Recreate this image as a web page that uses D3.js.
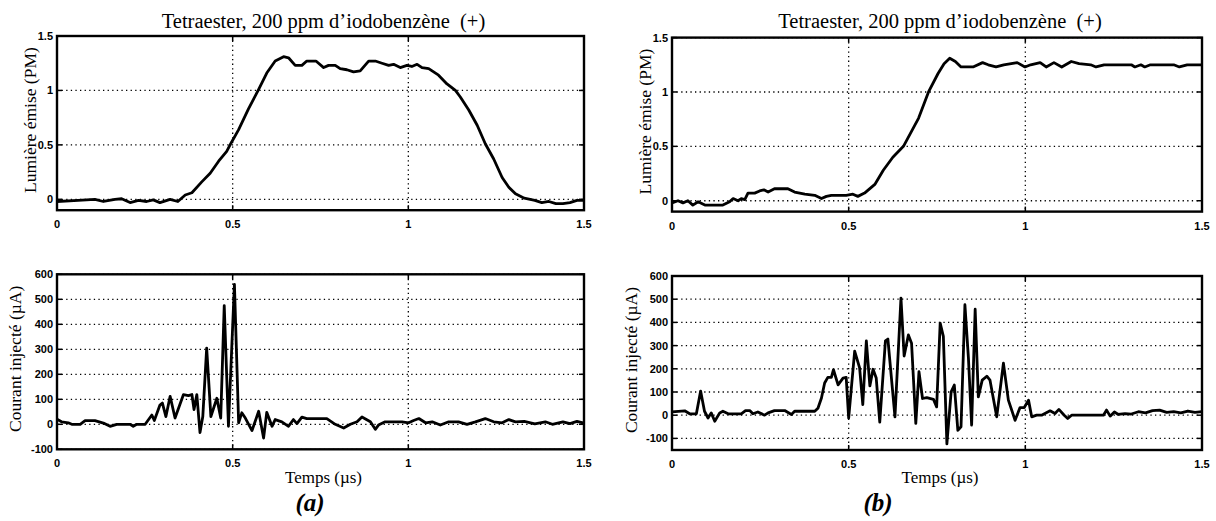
<!DOCTYPE html>
<html>
<head>
<meta charset="utf-8">
<script src="https://cdn.jsdelivr.net/npm/d3@7"></script>
<style>
  body { margin: 0; background: #fff; }
  svg { display: block; }
</style>
</head>
<body>
<svg id="viz"></svg>
<script>
// Light emitted (PM) and injected current (µA) vs time (µs), panels (a) and (b)

const titleText = "Tetraester, 200 ppm d\u2019iodobenz\u00e8ne \u00a0(+)";
const xTicks = [0, 0.5, 1, 1.5];
const xTickLabels = ["0", "0.5", "1", "1.5"];
const lightTicks = [0, 0.5, 1, 1.5];
const lightTickLabels = ["0", "0.5", "1", "1.5"];
const currentTicksA = [-100, 0, 100, 200, 300, 400, 500, 600];
const currentTicksB = [-100, 0, 100, 200, 300, 400, 500, 600];

// (a) light
const lightA_t = [0, 0.06, 0.108, 0.132, 0.165, 0.184, 0.208, 0.232, 0.255, 0.274, 0.293, 0.322, 0.344,
  0.365, 0.384, 0.412, 0.436, 0.46, 0.483, 0.496, 0.517, 0.545, 0.574, 0.597, 0.621, 0.645, 0.659,
  0.678, 0.697, 0.711, 0.737, 0.759, 0.773, 0.792, 0.806, 0.825, 0.844, 0.863, 0.887, 0.906, 0.925,
  0.944, 0.958, 0.977, 0.996, 1.01, 1.025, 1.039, 1.058, 1.086, 1.11, 1.134, 1.148, 1.172, 1.196,
  1.219, 1.243, 1.267, 1.286, 1.305, 1.33, 1.36, 1.38, 1.40, 1.42, 1.44, 1.46, 1.48, 1.5];
const lightA_v = [-0.02, -0.01, 0.0, -0.02, 0.0, 0.005, -0.03, -0.01, -0.02, -0.005, -0.03, 0.0, -0.02,
  0.04, 0.06, 0.16, 0.24, 0.35, 0.44, 0.52, 0.64, 0.83, 1.01, 1.16, 1.27, 1.31, 1.30,
  1.23, 1.23, 1.27, 1.27, 1.21, 1.23, 1.23, 1.20, 1.19, 1.17, 1.18, 1.27, 1.27, 1.25,
  1.23, 1.24, 1.21, 1.23, 1.22, 1.24, 1.21, 1.20, 1.14, 1.06, 1.0, 0.94, 0.82, 0.68,
  0.51, 0.37, 0.20, 0.11, 0.05, 0.01, -0.01, -0.03, -0.02, -0.04, -0.04, -0.03, -0.01, -0.01];

// (a) current
const currentA_t = [0, 0.013, 0.032, 0.042, 0.066, 0.08, 0.108, 0.132, 0.151, 0.17, 0.208, 0.217, 0.227,
  0.251, 0.27, 0.277, 0.293, 0.3, 0.31, 0.322, 0.336, 0.36, 0.374, 0.384, 0.39, 0.398, 0.407, 0.415,
  0.426, 0.438, 0.455, 0.466, 0.476, 0.488, 0.505, 0.517, 0.526, 0.536, 0.555, 0.574, 0.588, 0.597,
  0.612, 0.621, 0.64, 0.659, 0.673, 0.683, 0.697, 0.711, 0.768, 0.792, 0.816, 0.835, 0.854, 0.868,
  0.892, 0.906, 0.915, 0.934, 0.982, 1.001, 1.015, 1.03, 1.049, 1.068, 1.091, 1.115, 1.143, 1.167,
  1.191, 1.219, 1.243, 1.267, 1.286, 1.305, 1.33, 1.36, 1.39, 1.41, 1.44, 1.46, 1.48, 1.5];
const currentA_v = [20, 10, 6, 0, 0, 15, 15, 5, -8, 0, 0, -8, 0,
  0, 37, 15, 77, 85, 31, 112, 25, 119, 115, 119, 59, 119, -33, 31,
  305, 31, 104, 25, 475, -8, 560, 6, 46, 25, -25, 52, -55, 48,
  -8, 19, 10, -8, 19, 3, 29, 23, 23, 0, -15, 0, 10, 29,
  10, -20, -3, 10, 10, 6, 15, 23, 6, 10, -3, 10, 10, 0,
  10, 23, 10, 6, 19, 10, 12, 2, 10, 0, 10, 3, 12, 5];

// (b) light
const lightB_t = [0, 0.017, 0.031, 0.045, 0.059, 0.074, 0.093, 0.144, 0.163, 0.173, 0.187, 0.196, 0.206,
  0.215, 0.234, 0.248, 0.26, 0.272, 0.29, 0.328, 0.347, 0.376, 0.404, 0.423, 0.437, 0.451, 0.493,
  0.512, 0.526, 0.545, 0.574, 0.598, 0.625, 0.655, 0.698, 0.726, 0.753, 0.77, 0.786, 0.802, 0.818,
  0.852, 0.879, 0.895, 0.917, 0.939, 0.977, 0.999, 1.015, 1.042, 1.059, 1.081, 1.103, 1.13, 1.152,
  1.185, 1.2, 1.223, 1.3, 1.31, 1.327, 1.338, 1.354, 1.42, 1.436, 1.458, 1.5];
const lightB_v = [-0.02, 0.0, -0.02, 0.0, -0.04, -0.01, -0.04, -0.04, -0.01, 0.02, 0.0, 0.02, 0.01,
  0.07, 0.07, 0.09, 0.1, 0.08, 0.11, 0.11, 0.08, 0.06, 0.05, 0.02, 0.04, 0.05, 0.05,
  0.06, 0.04, 0.07, 0.15, 0.28, 0.40, 0.5, 0.76, 1.0, 1.17, 1.26, 1.31, 1.28, 1.23,
  1.23, 1.27, 1.25, 1.23, 1.25, 1.27, 1.23, 1.25, 1.27, 1.23, 1.27, 1.23, 1.28, 1.26,
  1.25, 1.23, 1.25, 1.25, 1.23, 1.25, 1.23, 1.25, 1.25, 1.23, 1.25, 1.25];

// (b) current
const currentB_t = [0, 0.036, 0.05, 0.069, 0.081, 0.092, 0.102, 0.111, 0.121, 0.135, 0.144, 0.159, 0.196,
  0.208, 0.22, 0.229, 0.243, 0.262, 0.272, 0.29, 0.319, 0.338, 0.347, 0.404, 0.413, 0.423, 0.432,
  0.441, 0.451, 0.457, 0.47, 0.484, 0.493, 0.5, 0.517, 0.531, 0.54, 0.55, 0.56, 0.569, 0.578, 0.588,
  0.604, 0.611, 0.631, 0.648, 0.657, 0.669, 0.678, 0.69, 0.699, 0.709, 0.721, 0.74, 0.749, 0.759,
  0.768, 0.778, 0.79, 0.799, 0.809, 0.818, 0.829, 0.839, 0.848, 0.858, 0.867, 0.878, 0.891, 0.9,
  0.919, 0.938, 0.952, 0.971, 0.985, 0.997, 1.009, 1.018, 1.032, 1.046, 1.07, 1.084, 1.095, 1.11,
  1.12, 1.131, 1.169, 1.221, 1.23, 1.24, 1.252, 1.262, 1.282, 1.3, 1.32, 1.34, 1.36, 1.38, 1.4,
  1.42, 1.44, 1.46, 1.48, 1.5];
const currentB_v = [14, 19, 6, 6, 104, 17, -12, 10, -26, 10, 17, 6, 6,
  20, 20, 6, 14, 0, 10, 20, 20, 3, 17, 17, 30, 74, 139,
  163, 163, 196, 131, 160, 163, -13, 276, 204, 46, 320, 126, 198, 160, -30,
  320, 328, -7, 505, 255, 346, 310, -35, 188, 72, 76, 68, 36, 397,
  340, -124, 101, 130, -65, -50, 476, 245, -43, 457, 79, 151, 168, 151,
  -7, 224, 65, -22, 33, 33, 65, -7, 0, 0, 19, 7, 25, 0,
  -14, 0, 0, 0, 22, -4, 14, 4, 7, 5, 15, 10, 20, 22, 12,
  15, 10, 18, 12, 15];

// panel layout (pixel boxes), data is wired in below
const panels = [
  { t: lightA_t, v: lightA_v, x: [57, 584], y: [210.2, 36], dom: [-0.1, 1.5],
    yt: lightTicks, ytl: lightTickLabels, title: true, ylabel: "Lumi\u00e8re \u00e9mise (PM)", ylx: 30 },
  { t: currentA_t, v: currentA_v, x: [57, 584], y: [449.3, 274.3], dom: [-100, 600],
    yt: currentTicksA, ytl: currentTicksA.map(String), xlabel: true, tag: "(a)", tagx: 310,
    ylabel: "Courant inject\u00e9 (\u00b5A)", ylx: 15 },
  { t: lightB_t, v: lightB_v, x: [672, 1202], y: [211.6, 37.6], dom: [-0.1, 1.5],
    yt: lightTicks, ytl: lightTickLabels, title: true, ylabel: "Lumi\u00e8re \u00e9mise (PM)", ylx: 645 },
  { t: currentB_t, v: currentB_v, x: [672, 1202], y: [450, 276], dom: [-150, 600],
    yt: currentTicksB, ytl: currentTicksB.map(String), xlabel: true, tag: "(b)", tagx: 878,
    ylabel: "Courant inject\u00e9 (\u00b5A)", ylx: 631 }
];

const svg = d3.select("#viz").attr("width", 1216).attr("height", 521);
const serif = "'Liberation Serif', 'Times New Roman', serif";
const sans = "'Liberation Sans', Arial, sans-serif";

panels.forEach(p => {
  const xScale = d3.scaleLinear().domain([0, 1.5]).range(p.x);
  const yScale = d3.scaleLinear().domain(p.dom).range(p.y);
  const g = svg.append("g");
  const [x0, x1] = p.x;
  const [yb, yt] = p.y;

  // dotted grid
  g.selectAll(".vgrid").data([0.5, 1]).enter().append("line")
    .attr("x1", d => xScale(d)).attr("x2", d => xScale(d))
    .attr("y1", yt).attr("y2", yb)
    .attr("stroke", "#000").attr("stroke-width", 1.3).attr("stroke-dasharray", "1.3,3.3");
  g.selectAll(".hgrid").data(p.yt).enter().append("line")
    .attr("x1", x0).attr("x2", x1)
    .attr("y1", d => yScale(d)).attr("y2", d => yScale(d))
    .attr("stroke", "#000").attr("stroke-width", 1.3).attr("stroke-dasharray", "1.3,3.3");

  // inward ticks
  xTicks.forEach(d => {
    g.append("line").attr("x1", xScale(d)).attr("x2", xScale(d)).attr("y1", yb).attr("y2", yb - 5)
      .attr("stroke", "#000").attr("stroke-width", 1.5);
    g.append("line").attr("x1", xScale(d)).attr("x2", xScale(d)).attr("y1", yt).attr("y2", yt + 5)
      .attr("stroke", "#000").attr("stroke-width", 1.5);
  });
  p.yt.forEach(d => {
    g.append("line").attr("x1", x0).attr("x2", x0 + 5).attr("y1", yScale(d)).attr("y2", yScale(d))
      .attr("stroke", "#000").attr("stroke-width", 1.5);
    g.append("line").attr("x1", x1).attr("x2", x1 - 5).attr("y1", yScale(d)).attr("y2", yScale(d))
      .attr("stroke", "#000").attr("stroke-width", 1.5);
  });

  // data line
  const pts = p.t.map((t, i) => [t, p.v[i]]);
  g.append("path").datum(pts)
    .attr("d", d3.line().x(d => xScale(d[0])).y(d => yScale(d[1])))
    .attr("fill", "none").attr("stroke", "#000").attr("stroke-width", 2.8)
    .attr("stroke-linejoin", "round");

  // frame
  g.append("rect").attr("x", x0).attr("y", yt).attr("width", x1 - x0).attr("height", yb - yt)
    .attr("fill", "none").attr("stroke", "#000").attr("stroke-width", 2.4);

  // tick labels
  g.selectAll(".xl").data(xTicks).enter().append("text")
    .attr("x", d => xScale(d)).attr("y", yb + 18)
    .attr("text-anchor", "middle")
    .style("font-family", sans).style("font-size", "11px").style("font-weight", "bold")
    .text((d, i) => xTickLabels[i]);
  g.selectAll(".yl").data(p.yt).enter().append("text")
    .attr("x", x0 - 4).attr("y", d => yScale(d) + 4)
    .attr("text-anchor", "end")
    .style("font-family", sans).style("font-size", "11px").style("font-weight", "bold")
    .text((d, i) => p.ytl[i]);

  // axis titles
  g.append("text")
    .attr("transform", `translate(${p.ylx}, ${(yt + yb) / 2 - 3}) rotate(-90)`)
    .attr("text-anchor", "middle").attr("dy", "0.35em")
    .style("font-family", serif).style("font-size", "17.5px")
    .text(p.ylabel);

  if (p.title) {
    g.append("text").attr("x", (x0 + x1) / 2 + 3).attr("y", 28)
      .attr("text-anchor", "middle")
      .style("font-family", serif).style("font-size", "20.5px")
      .text(titleText);
  }
  if (p.xlabel) {
    g.append("text").attr("x", (x0 + x1) / 2 + 3).attr("y", 483)
      .attr("text-anchor", "middle")
      .style("font-family", serif).style("font-size", "17px")
      .text("Temps (\u00b5s)");
  }
  if (p.tag) {
    g.append("text").attr("x", p.tagx).attr("y", 511)
      .attr("text-anchor", "middle")
      .style("font-family", serif).style("font-size", "25px")
      .style("font-weight", "bold").style("font-style", "italic")
      .text(p.tag);
  }
});
</script>
</body>
</html>
